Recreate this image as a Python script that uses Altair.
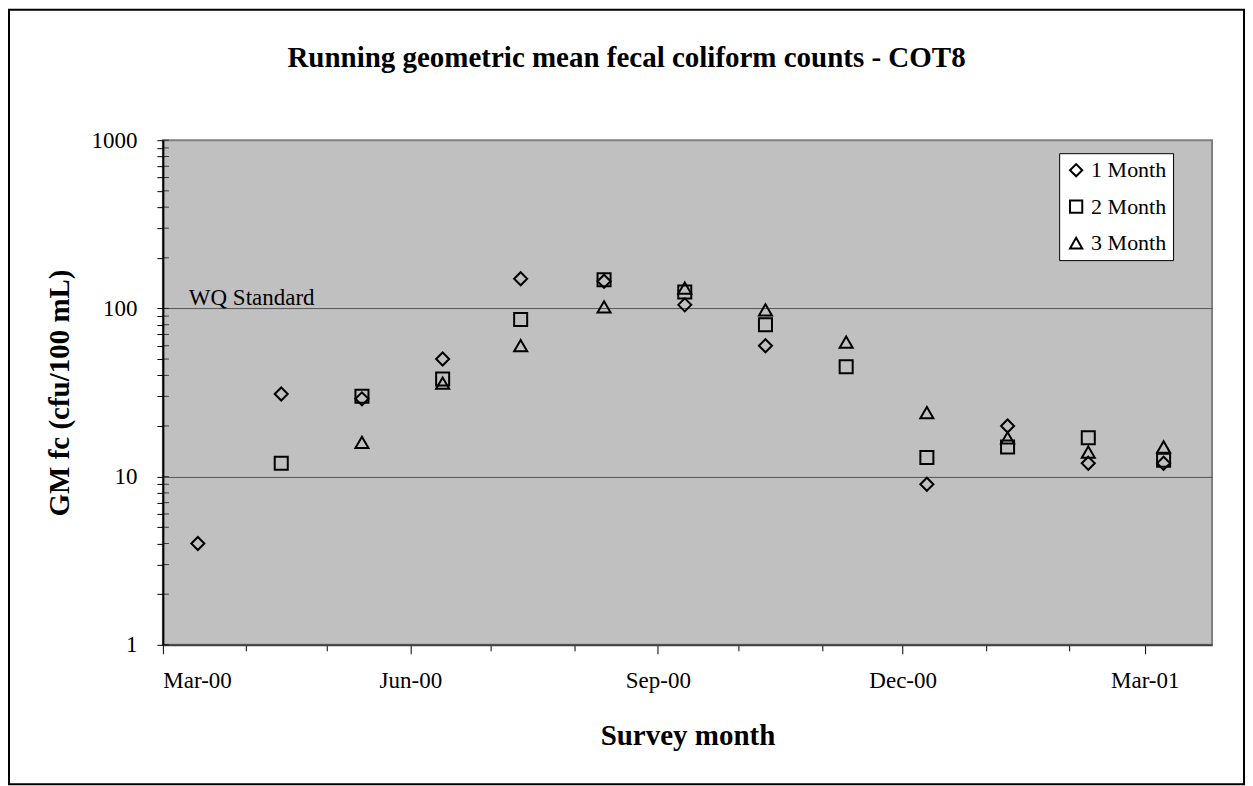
import altair as alt
import pandas as pd

# ---- data ----
dates = ["2000-03-14", "2000-04-14", "2000-05-14", "2000-06-13", "2000-07-12",
         "2000-08-12", "2000-09-11", "2000-10-11", "2000-11-10", "2000-12-10",
         "2001-01-09", "2001-02-08", "2001-03-08"]
month1 = [4, 31, 29, 50, 150, 145, 105, 60, None, 9, 20, 12, 12]
month2 = [None, 12, 30, 38, 86, 148, 125, 80, 45, 13, 15, 17, 12.5]
month3 = [None, None, 16, 36, 60, 102, 132, 98, 63, 24, 17, 14, 15]
series_names = ["1 Month", "2 Month", "3 Month"]
series_shapes = ["diamond", "square", "triangle-up"]

y_ticks = [1, 2, 3, 4, 5, 6, 7, 8, 9,
           10, 20, 30, 40, 50, 60, 70, 80, 90,
           100, 200, 300, 400, 500, 600, 700, 800, 900, 1000]
x_tick_months = [(2000, 3), (2000, 4), (2000, 5), (2000, 6), (2000, 7), (2000, 8),
                 (2000, 9), (2000, 10), (2000, 11), (2000, 12), (2001, 1),
                 (2001, 2), (2001, 3)]
wq_label = ["WQ Standard"]
wq_value = [100]
title_text = "Running geometric mean fecal coliform counts - COT8"

rows = []
for name, vals in zip(series_names, [month1, month2, month3]):
    for d, v in zip(dates, vals):
        if v is not None:
            rows.append({"date": d + "T00:00:00", "value": v, "series": name})
df = pd.DataFrame(rows)

FONT = "Liberation Serif"
W, H = 1050, 505

x_scale = alt.Scale(domain=[alt.DateTime(year=2000, month=3, date=1),
                            alt.DateTime(year=2001, month=3, date=26)])
y_scale = alt.Scale(type="log", domain=[1, 1000])

x_axis = alt.Axis(
    values=[alt.DateTime(year=y, month=m, date=1) for y, m in x_tick_months],
    labelExpr="month(datum.value) % 3 == 2 ? timeFormat(datum.value, '%b-%y') : ''",
    tickSize={"condition": {"test": "month(datum.value) % 3 == 2", "value": 9}, "value": 6},
    labelPadding=16, grid=False, title="Survey month", titlePadding=29,
    domainColor="#404040", domainWidth=2, tickColor="black", tickWidth=1,
    labelFont=FONT, labelFontSize=23, labelColor="black",
    titleFont=FONT, titleFontSize=29, titleFontWeight="bold", titleColor="black",
)
y_axis = alt.Axis(
    values=y_ticks,
    labelExpr="(datum.value == 1 || datum.value == 10 || datum.value == 100 || datum.value == 1000) ? format(datum.value, 'd') : ''",
    tickSize=6, labelPadding=20,
    gridColor="#555555", gridWidth=1,
    gridOpacity={"condition": {"test": "datum.value == 10 || datum.value == 100", "value": 1}, "value": 0},
    title="GM fc (cfu/100 mL)", titlePadding=16,
    domainColor="black", domainWidth=2, tickColor="black", tickWidth=1,
    labelFont=FONT, labelFontSize=23, labelColor="black",
    titleFont=FONT, titleFontSize=29, titleFontWeight="bold", titleColor="black",
)

frame = alt.Chart(alt.Data(values=[{"a": 1}])).mark_rect(
    fillOpacity=0, stroke="black", strokeWidth=2
).encode(
    x=alt.value(-154), x2=alt.value(1082), y=alt.value(-130.5), y2=alt.value(644.5)
)

title = alt.Chart(alt.Data(values=[{"t": title_text}])).mark_text(
    font=FONT, fontSize=29, fontWeight="bold", color="black", align="center", baseline="alphabetic"
).encode(text="t:N", x=alt.value(464), y=alt.value(-73))

inner_ticks = alt.Chart(pd.DataFrame({"v": y_ticks})).mark_tick(
    orient="horizontal", color="black", thickness=1, size=6
).encode(y=alt.Y("v:Q", scale=y_scale, axis=y_axis), x=alt.value(3))

wq = alt.Chart(pd.DataFrame({"label": wq_label, "v": wq_value})).mark_text(
    font=FONT, fontSize=23, color="black", align="left", baseline="alphabetic", dy=-3
).encode(text="label:N", x=alt.value(26), y=alt.Y("v:Q", scale=y_scale))

points = alt.Chart(df).mark_point(filled=False, strokeWidth=2, size=170, color="black", opacity=1).encode(
    x=alt.X("date:T", scale=x_scale, axis=x_axis),
    y=alt.Y("value:Q", scale=y_scale, axis=y_axis),
    shape=alt.Shape("series:N", scale=alt.Scale(domain=series_names, range=series_shapes),
                    legend=alt.Legend(title=None, orient="none", legendX=897, legendY=13,
                                      fillColor="white", strokeColor="black", padding=6,
                                      labelFont=FONT, labelFontSize=22, labelColor="black",
                                      symbolStrokeColor="black", symbolFillColor="transparent",
                                      symbolStrokeWidth=2, symbolSize=150, symbolOffset=0,
                                      rowPadding=14.5, labelOffset=4)),
)

chart = alt.layer(frame, title, inner_ticks, wq, points).properties(
    width=W, height=H, padding=0, background="white"
).configure_view(
    fill="#C0C0C0", stroke="#808080", strokeWidth=2
)

chart.save("out.html", embed_options={"renderer": "svg", "actions": False})
